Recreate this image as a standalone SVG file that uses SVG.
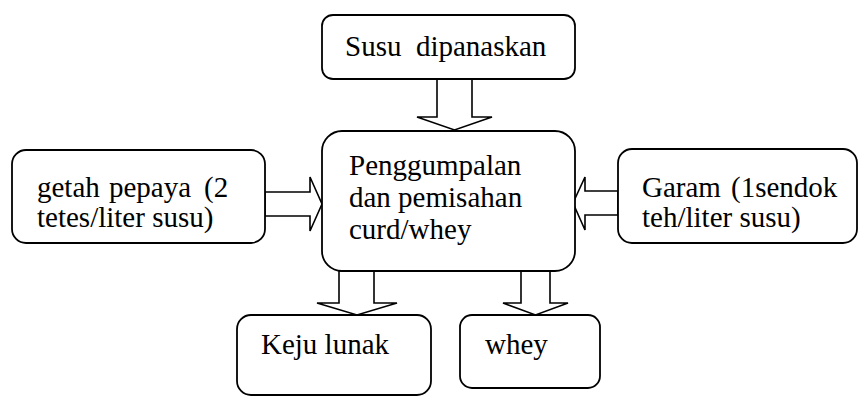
<svg xmlns="http://www.w3.org/2000/svg" width="859" height="397" viewBox="0 0 859 397">
<style>
.box{fill:#fff;stroke:#000;stroke-width:1.8}
.arr{fill:#fff;stroke:#000;stroke-width:1.6;stroke-linejoin:miter}
</style>
<rect width="859" height="397" fill="#fff"/>
<g id="connectors">
<polygon class="arr" points="437,79 472,79 472,117 492,117 454.5,130 417,117 437,117"/>
<polygon class="arr" points="265,192 310,192 310,177 322,204 310,231 310,216 265,216"/>
<polygon class="arr" points="618,191 585,191 585,177 573,203 585,230 585,215 618,215"/>
<polygon class="arr" points="339,271 374,271 374,303 397,303 357,315 317,303 339,303"/>
<polygon class="arr" points="521,271 550,271 550,303 568,303 535.5,315 503,303 521,303"/>
</g>
<g font-family="'Liberation Serif','Times New Roman',serif" font-size="29" fill="#000">
<g id="susu">
<rect class="box" x="322" y="15" width="253" height="64" rx="11"/>
<text x="345" y="56" xml:space="preserve">Susu  dipanaskan</text>
</g>
<g id="penggumpalan">
<rect class="box" x="322" y="131" width="253" height="140" rx="20"/>
<text x="349" y="175">Penggumpalan</text>
<text x="349" y="207">dan pemisahan</text>
<text x="349" y="239">curd/whey</text>
</g>
<g id="getah">
<rect class="box" x="12" y="150" width="253" height="93" rx="14"/>
<text y="197"><tspan x="37">getah</tspan><tspan x="109">pepaya</tspan><tspan x="204">(2</tspan></text>
<text x="37" y="227">tetes/liter susu)</text>
</g>
<g id="garam">
<rect class="box" x="618" y="149" width="239" height="94" rx="14"/>
<text y="197"><tspan x="642">Garam</tspan><tspan x="731">(1sendok</tspan></text>
<text x="642" y="227">teh/liter susu)</text>
</g>
<g id="keju">
<rect class="box" x="237" y="315" width="194" height="80" rx="14"/>
<text x="261" y="354">Keju lunak</text>
</g>
<g id="whey">
<rect class="box" x="460" y="315" width="140" height="73" rx="12"/>
<text x="485" y="354">whey</text>
</g>
</g>
</svg>
